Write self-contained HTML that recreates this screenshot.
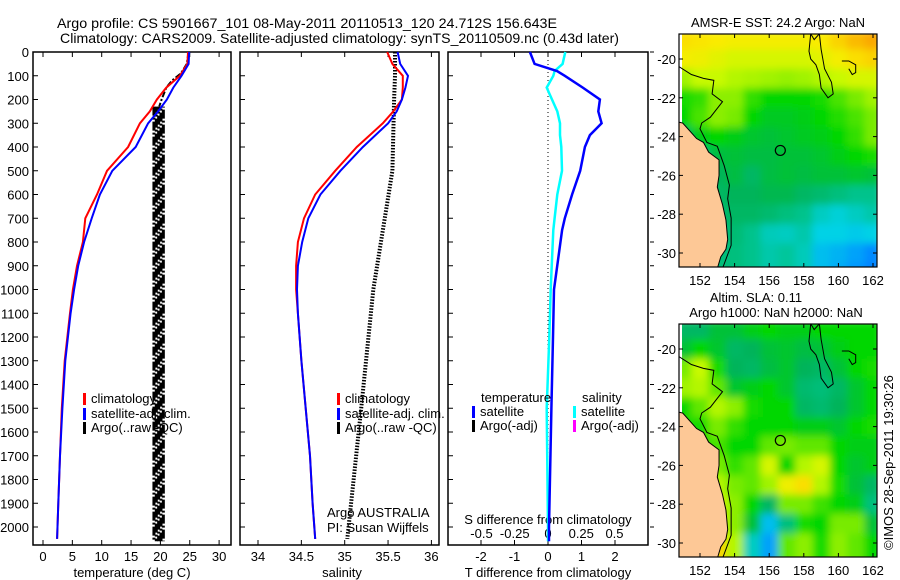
<!DOCTYPE html>
<html><head><meta charset="utf-8"><style>
html,body{margin:0;padding:0;background:#fff;}
svg{display:block;font-family:"Liberation Sans",sans-serif;}
text{fill:#000;}
</style></head><body>
<svg id="fig" width="900" height="580" viewBox="0 0 900 580" xmlns="http://www.w3.org/2000/svg">
<defs>
<filter id="blur" x="0" y="0" width="1" height="1"><feGaussianBlur stdDeviation="4" edgeMode="duplicate"/></filter>
<clipPath id="clipTop"><rect x="679" y="34" width="198" height="233"/></clipPath>
<clipPath id="clipBot"><rect x="679" y="324" width="198" height="233"/></clipPath>
</defs>
<text x="57" y="28" font-size="14" textLength="500" lengthAdjust="spacingAndGlyphs">Argo profile: CS 5901667_101 08-May-2011 20110513_120 24.712S 156.643E</text>
<text x="60" y="43" font-size="14" textLength="559" lengthAdjust="spacingAndGlyphs">Climatology: CARS2009. Satellite-adjusted climatology: synTS_20110509.nc (0.43d later)</text>
<g id="g1"></g>
<g id="g2"></g>
<g id="g3"></g>
<g id="m1"></g>
<g id="m2"></g>
<text transform="translate(893,550) rotate(-90)" font-size="13">©IMOS 28-Sep-2011 19:30:26</text>
</svg>
<script>
// ---- data ----
const depths = [0,50,100,150,200,250,300,400,500,600,700,800,900,1000,1100,1300,1500,1700,1900,2050];
const tempClim = [24.7,24.6,23.3,21.0,19.4,18.2,16.5,14.5,10.9,9.2,7.2,6.8,5.8,5.1,4.6,3.7,3.2,2.9,2.6,2.4];
const tempSat  = [24.9,24.8,23.6,22.2,21.1,19.6,17.9,15.8,11.8,9.7,8.3,7.0,6.0,5.3,4.7,3.8,3.3,2.9,2.6,2.4];
const argoTDepth = [0,50,90,120,150,200,230];
const argoT = [24.8,24.5,23.5,22.0,21.0,20.2,19.8];
const argoBandDepth = [230,2060];
const argoBandT = [18.9,19.3,19.7,20.1,20.5];
const salClim = [35.49,35.55,35.67,35.67,35.66,35.56,35.44,35.14,34.89,34.66,34.53,34.46,34.44,34.44,34.46,34.5,34.55,34.6,34.63,34.66];
const salSat  = [35.61,35.64,35.73,35.70,35.66,35.60,35.50,35.21,34.95,34.72,34.58,34.51,34.46,34.45,34.46,34.5,34.55,34.6,34.63,34.66];
const argoSDepth = [0,100,200,500,1000,1500,2050];
const argoS = [35.58,35.58,35.57,35.55,35.33,35.19,35.03];
const diffDepth = [0,50,80,100,150,200,250,300,350,400,500,600,700,750,1000,1200,1500,2000,2060];
const diffT = [-0.54,-0.4,0.27,0.5,1.04,1.55,1.5,1.6,1.25,1.1,0.96,0.72,0.5,0.42,0.18,0.15,0.1,0.03,0.03];
const diffS = [0.13,0.11,0.05,0.04,-0.01,0.03,0.07,0.09,0.09,0.1,0.105,0.07,0.05,0.04,0.02,0.01,-0.01,0.0,0.0];
const depthTicks = [0,100,200,300,400,500,600,700,800,900,1000,1100,1200,1300,1400,1500,1600,1700,1800,1900,2000];
const tempTicks = [0,5,10,15,20,25,30];
const salTicks = [34,34.5,35,35.5,36];
const tdTicks = [-2,-1,0,1,2];
const sdTicks = [-0.5,-0.25,0,0.25,0.5];
const sdTickLabels = ['-0.5','-0.25','0','0.25','0.5'];
// map grids: rows lat 19..31, cols lon 151..162
const sstGrid = [
[0.88,0.87,0.86,0.85,0.85,0.85,0.85,0.85,0.86,0.9,0.94,0.97],
[0.85,0.84,0.82,0.8,0.8,0.8,0.8,0.8,0.82,0.85,0.88,0.9],
[0.74,0.78,0.78,0.76,0.75,0.74,0.73,0.74,0.76,0.78,0.8,0.8],
[0.62,0.64,0.72,0.72,0.64,0.6,0.6,0.6,0.62,0.66,0.7,0.74],
[0.6,0.66,0.72,0.7,0.6,0.57,0.57,0.58,0.6,0.63,0.66,0.7],
[0.5,0.58,0.6,0.58,0.56,0.55,0.56,0.57,0.58,0.6,0.64,0.7],
[0.42,0.45,0.54,0.55,0.54,0.54,0.55,0.55,0.56,0.58,0.6,0.62],
[0.45,0.48,0.52,0.54,0.5,0.54,0.55,0.54,0.55,0.55,0.56,0.55],
[0.45,0.45,0.5,0.52,0.52,0.53,0.53,0.5,0.48,0.45,0.42,0.42],
[0.45,0.45,0.48,0.5,0.5,0.48,0.45,0.42,0.35,0.32,0.35,0.38],
[0.42,0.42,0.45,0.47,0.42,0.36,0.35,0.38,0.3,0.3,0.28,0.3],
[0.42,0.42,0.46,0.45,0.42,0.38,0.4,0.36,0.25,0.22,0.18,0.12],
[0.42,0.42,0.46,0.45,0.42,0.38,0.4,0.36,0.25,0.2,0.15,0.1]];
const slaGrid = [
[0.5,0.5,0.55,0.55,0.58,0.6,0.58,0.58,0.6,0.6,0.6,0.6],
[0.55,0.6,0.56,0.5,0.52,0.55,0.56,0.54,0.55,0.58,0.6,0.6],
[0.7,0.78,0.62,0.52,0.5,0.54,0.56,0.52,0.5,0.55,0.6,0.62],
[0.74,0.76,0.68,0.56,0.58,0.6,0.56,0.48,0.46,0.5,0.56,0.6],
[0.6,0.68,0.76,0.72,0.62,0.6,0.6,0.5,0.48,0.52,0.56,0.6],
[0.62,0.62,0.7,0.64,0.6,0.6,0.6,0.58,0.58,0.56,0.6,0.62],
[0.62,0.62,0.66,0.6,0.6,0.68,0.7,0.68,0.68,0.6,0.58,0.58],
[0.62,0.62,0.7,0.64,0.68,0.8,0.6,0.76,0.8,0.6,0.56,0.58],
[0.66,0.66,0.76,0.7,0.68,0.74,0.84,0.88,0.76,0.62,0.55,0.5],
[0.7,0.7,0.8,0.72,0.6,0.5,0.7,0.7,0.65,0.6,0.58,0.45],
[0.74,0.74,0.82,0.72,0.55,0.25,0.45,0.62,0.6,0.7,0.7,0.55],
[0.8,0.8,0.9,0.76,0.35,0.18,0.68,0.72,0.62,0.72,0.68,0.6],
[0.8,0.8,0.9,0.76,0.35,0.18,0.68,0.72,0.62,0.72,0.68,0.6]];
const coastLon = [150.5,151.0,151.5,151.8,152.2,152.5,153.1,153.1,153.0,153.3,153.5,153.6,153.5,153.2,153.0,150.5];
const coastLat = [23.2,23.3,23.8,24.1,24.3,24.8,25.2,26.0,26.6,27.5,28.3,29.3,29.8,30.2,30.8,30.8];
const isoLon = [150.8,151.5,152.2,152.8,152.7,153.3,152.6,152.1,152.0,152.4,153.0,153.4,153.7,153.6,153.8,153.8,153.3];
const isoLat = [20.4,20.8,21.0,21.1,21.8,22.2,23.0,23.3,23.6,24.3,24.5,25.5,26.5,27.2,28.2,29.6,30.8];
const reefLon = [158.4,158.6,158.9,159.0,159.2,159.6,159.7,159.4,159.0,158.9,158.7,158.4,158.3,158.4];
const reefLat = [18.7,19.0,18.7,19.5,20.5,21.2,21.8,22.0,21.5,20.8,20.3,20.0,19.6,18.7];
const islandLon = [160.2,160.6,161.0,161.0,160.8,160.6];
const islandLat = [20.1,20.1,20.3,20.7,20.8,20.5];
const floatLon = 156.643, floatLat = 24.712;

const NS='http://www.w3.org/2000/svg';
function el(parent,tag,attrs,txt){const e=document.createElementNS(NS,tag);for(const k in attrs)e.setAttribute(k,attrs[k]);if(txt!==undefined)e.textContent=txt;parent.appendChild(e);return e;}
const Y0=52, YS=0.2375;
const yd = d => Y0 + d*YS;
const xT = t => 43 + t*5.87;
const xS = s => 258 + (s-34)*86.7;
const xTD = t => 548 + t*33.5;
const xSD = s => 548 + s*133;
function pathFrom(xs,ds,fx){return xs.map((v,i)=>(i?'L':'M')+fx(v).toFixed(1)+','+yd(ds[i]).toFixed(1)).join('');}
function frame(g,x0,x1,name){
  const r=el(g,'rect',{x:x0,y:52,width:x1-x0,height:493,fill:'none',stroke:'#000','stroke-width':1.5});
  
  
}
function depthTickMarks(g,x0,x1,outsideRight){
  depthTicks.forEach(d=>{
    const y=yd(d);
    el(g,'line',{x1:x0,y1:y,x2:x0+5,y2:y,stroke:'#000'});
    if(outsideRight) el(g,'line',{x1:x1+2,y1:y,x2:x1+6,y2:y,stroke:'#000'});
  });
}
function xTickMarks(g,ticks,fx){ticks.forEach(t=>{const x=fx(t);el(g,'line',{x1:x,y1:52,x2:x,y2:57,stroke:'#000'});el(g,'line',{x1:x,y1:545,x2:x,y2:540,stroke:'#000'});});}
function legendEntry(g,x,y,color,label,name){
  const gg=el(g,'g',{});
  
  
  el(gg,'rect',{x:x,y:y-10,width:3,height:12,fill:color});
  el(gg,'text',{x:x+8,y:y,'font-size':13},label);
}

// ---- panel 1 ----
const g1=document.getElementById('g1');
frame(g1,33,231,'temperature-plot-frame');
depthTickMarks(g1,33,231,false);
xTickMarks(g1,tempTicks,xT);
depthTicks.forEach(d=>{const t=el(g1,'text',{x:29,y:yd(d)+5,'font-size':13,'text-anchor':'end'},String(d));});
tempTicks.forEach(v=>{const t=el(g1,'text',{x:xT(v),y:561,'font-size':13,'text-anchor':'middle'},String(v));});
{const t=el(g1,'text',{x:132,y:577,'font-size':13,'text-anchor':'middle'},'temperature (deg C)');}
argoBandT.forEach((v,i)=>{const l=el(g1,'line',{x1:xT(v),y1:yd(argoBandDepth[0]),x2:xT(v),y2:yd(argoBandDepth[1]),stroke:'#000','stroke-width':3,'stroke-dasharray':'9 2 2 2','stroke-dashoffset':i*3});});
{const p=el(g1,'path',{d:pathFrom(argoT,argoTDepth,xT),fill:'none',stroke:'#000','stroke-width':2,'stroke-dasharray':'6 2 2 2'});}
{const p=el(g1,'path',{d:pathFrom(tempClim,depths,xT),fill:'none',stroke:'#f00','stroke-width':2});}
{const p=el(g1,'path',{d:pathFrom(tempSat,depths,xT),fill:'none',stroke:'#00f','stroke-width':2});}
legendEntry(g1,83,403,'#f00','climatology','legend-climatology');
legendEntry(g1,83,418,'#00f','satellite-adj. clim.','legend-satellite');
legendEntry(g1,83,432,'#000','Argo(..raw -QC)','legend-argo');

// ---- panel 2 ----
const g2=document.getElementById('g2');
frame(g2,240,439,'salinity-plot-frame');
depthTickMarks(g2,240,439,false);
xTickMarks(g2,salTicks,xS);
salTicks.forEach(v=>{const t=el(g2,'text',{x:xS(v),y:561,'font-size':13,'text-anchor':'middle'},String(v));});
{const t=el(g2,'text',{x:342,y:577,'font-size':13,'text-anchor':'middle'},'salinity');}
{const p=el(g2,'path',{d:pathFrom(argoS,argoSDepth,xS),fill:'none',stroke:'#000','stroke-width':4,'stroke-dasharray':'1.5 1.5'});}
{const p=el(g2,'path',{d:pathFrom(salClim,depths,xS),fill:'none',stroke:'#f00','stroke-width':2});}
{const p=el(g2,'path',{d:pathFrom(salSat,depths,xS),fill:'none',stroke:'#00f','stroke-width':2});}
legendEntry(g2,337,403,'#f00','climatology','legend-climatology');
legendEntry(g2,337,418,'#00f','satellite-adj. clim.','legend-satellite');
legendEntry(g2,337,432,'#000','Argo(..raw -QC)','legend-argo');
{const t=el(g2,'text',{x:327,y:517,'font-size':13},'Argo AUSTRALIA');}
{const t=el(g2,'text',{x:327,y:532,'font-size':13},'PI: Susan Wijffels');}

// ---- panel 3 ----
const g3=document.getElementById('g3');
frame(g3,448,648,'difference-plot-frame');
depthTickMarks(g3,448,648,true);
xTickMarks(g3,tdTicks,xTD);
el(g3,'line',{x1:548,y1:52,x2:548,y2:545,stroke:'#000','stroke-dasharray':'1 3'});
tdTicks.forEach(v=>{const t=el(g3,'text',{x:xTD(v),y:561,'font-size':13,'text-anchor':'middle'},String(v));});
sdTicks.forEach((v,i)=>{const t=el(g3,'text',{x:xSD(v),y:538,'font-size':13,'text-anchor':'middle'},sdTickLabels[i]);});
{const t=el(g3,'text',{x:548,y:524,'font-size':13,'text-anchor':'middle'},'S difference from climatology');}
{const t=el(g3,'text',{x:548,y:577,'font-size':13,'text-anchor':'middle'},'T difference from climatology');}
{const p=el(g3,'path',{d:pathFrom(diffS,diffDepth,xSD),fill:'none',stroke:'#0ff','stroke-width':2.5});}
{const p=el(g3,'path',{d:pathFrom(diffT,diffDepth,xTD),fill:'none',stroke:'#00f','stroke-width':2.5});}
{const t=el(g3,'text',{x:481,y:402,'font-size':13},'temperature');}
{const t=el(g3,'text',{x:582,y:402,'font-size':13},'salinity');}
legendEntry(g3,472,416,'#00f','satellite','legend-t-satellite');
legendEntry(g3,472,430,'#000','Argo(-adj)','legend-t-argo');
legendEntry(g3,573,416,'#0ff','satellite','legend-s-satellite');
legendEntry(g3,573,430,'#f0f','Argo(-adj)','legend-s-argo');

// ---- maps ----
const cmapV=[0,0.15,0.3,0.42,0.52,0.6,0.7,0.78,0.86,1.0];
const cmapC=[[0,90,255],[0,150,255],[0,210,230],[0,195,140],[0,180,90],[0,215,0],[120,235,0],[200,250,0],[250,235,0],[250,150,0]];
function cmap(v){v=Math.max(0,Math.min(1,v));for(let i=1;i<cmapV.length;i++){if(v<=cmapV[i]){const f=(v-cmapV[i-1])/(cmapV[i]-cmapV[i-1]);const a=cmapC[i-1],b=cmapC[i];return 'rgb('+a.map((c,k)=>Math.round(c+(b[k]-c)*f)).join(',')+')';}}return 'rgb(250,150,0)';}
function drawMap(gid,grid,off,clip,name){
  const g=document.getElementById(gid);
  const mx=lon=>700+(lon-152)*17.3;
  const my=lat=>off+59+(lat-20)*19.4;
  const cg=el(g,'g',{'clip-path':'url(#'+clip+')'});
  const hg=el(cg,'g',{filter:'url(#blur)'});
  grid.forEach((row,j)=>row.forEach((v,i)=>{
    const lat=19+j, lon=151+i;
    const r=el(hg,'rect',{x:mx(lon-0.5),y:my(lat-0.5),width:17.6,height:19.8,fill:cmap(v)});
    
    
  }));
  el(cg,'rect',{x:679,y:off+34,width:3,height:233,fill:'#fff'});
  const land=el(cg,'polygon',{points:coastLon.map((l,i)=>mx(l)+','+my(coastLat[i])).join(' '),fill:'#fdc896',stroke:'#000','stroke-width':1});
  
  
  const iso=el(cg,'polyline',{points:isoLon.map((l,i)=>mx(l)+','+my(isoLat[i])).join(' '),fill:'none',stroke:'#000','stroke-width':1});
  
  
  const reef=el(cg,'polyline',{points:reefLon.map((l,i)=>mx(l)+','+my(reefLat[i])).join(' '),fill:'none',stroke:'#000','stroke-width':1});
  
  
  el(cg,'polyline',{points:islandLon.map((l,i)=>mx(l)+','+my(islandLat[i])).join(' '),fill:'none',stroke:'#000','stroke-width':1});
  const fl=el(g,'circle',{cx:mx(floatLon),cy:my(floatLat),r:5,fill:'none',stroke:'#000','stroke-width':1.2});
  
  
  const fr=el(g,'rect',{x:679,y:off+34,width:198,height:233,fill:'none',stroke:'#000','stroke-width':1.2});
  
  
  [152,154,156,158,160,162].forEach(l=>{
    el(g,'line',{x1:mx(l),y1:off+34,x2:mx(l),y2:off+38,stroke:'#000'});
    el(g,'line',{x1:mx(l),y1:off+267,x2:mx(l),y2:off+263,stroke:'#000'});
    const t=el(g,'text',{x:mx(l),y:off+285,'font-size':13,'text-anchor':'middle'},String(l));
    
    
  });
  [20,22,24,26,28,30].forEach(l=>{
    el(g,'line',{x1:679,y1:my(l),x2:683,y2:my(l),stroke:'#000'});
    el(g,'line',{x1:877,y1:my(l),x2:873,y2:my(l),stroke:'#000'});
    const t=el(g,'text',{x:676,y:my(l)+5,'font-size':13,'text-anchor':'end'},'-'+l);
    
    
  });
}
drawMap('m1',sstGrid,0,'clipTop','sst-map');
drawMap('m2',slaGrid,290,'clipBot','sla-map');
{const t=el(document.getElementById('m1'),'text',{x:778,y:27,'font-size':13,'text-anchor':'middle'},'AMSR-E SST: 24.2 Argo: NaN');}
{const t=el(document.getElementById('m2'),'text',{x:756,y:302,'font-size':13,'text-anchor':'middle'},'Altim. SLA: 0.11');}
{const t=el(document.getElementById('m2'),'text',{x:776,y:317,'font-size':13,'text-anchor':'middle'},'Argo h1000: NaN h2000: NaN');}
</script>
</body></html>
